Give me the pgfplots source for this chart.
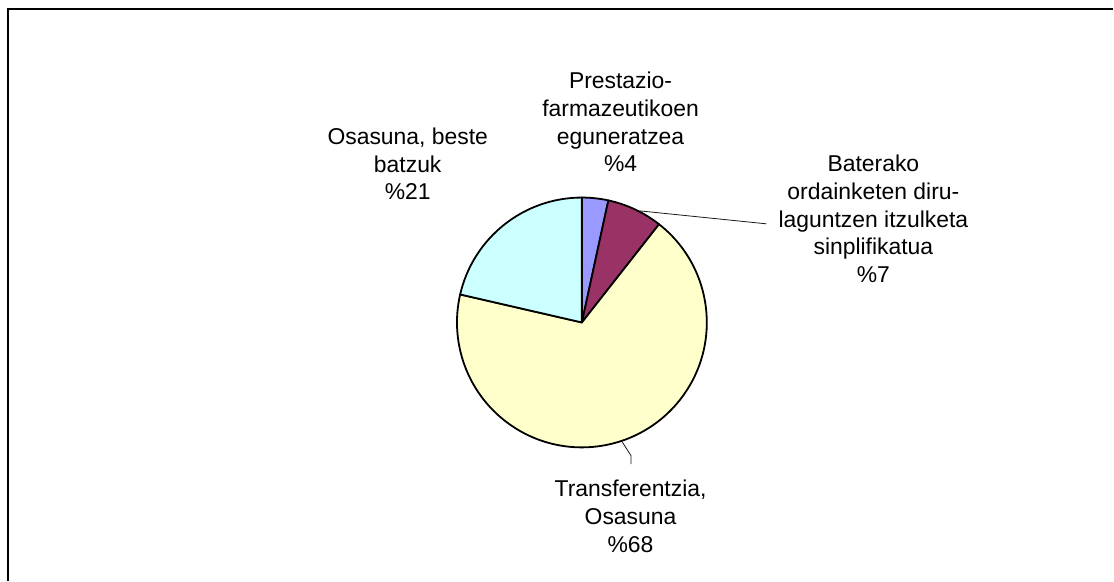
\documentclass[border=0pt]{standalone}
\usepackage{pgfplots}
\pgfplotsset{compat=1.18}
\usepackage{fontspec}
\setmainfont{Liberation Sans}
\definecolor{sliceA}{HTML}{9999FF}
\definecolor{sliceB}{HTML}{993366}
\definecolor{sliceC}{HTML}{FFFFCC}
\definecolor{sliceD}{HTML}{CCFFFF}
% shares (percent)
\def\vA{3.4}  % Prestazio-farmazeutikoen eguneratzea
\def\vB{7.2}  % Baterako ordainketen ...
\def\vC{68.0} % Transferentzia, Osasuna
\def\vD{21.4} % Osasuna, beste batzuk
\pgfmathsetmacro\aA{90-3.6*\vA}
\pgfmathsetmacro\aB{\aA-3.6*\vB}
\pgfmathsetmacro\aC{\aB-3.6*\vC}
\pgfmathsetmacro\aD{\aC-3.6*\vD}
\begin{document}
\begin{tikzpicture}
\begin{axis}[width=1114bp,height=581bp,scale only axis,
  xmin=0,xmax=1114,ymin=0,ymax=581,hide axis,clip=false]
\path (axis cs:0,0) rectangle (axis cs:1114,581);
\draw[line width=1.6bp] (axis cs:8,0) -- (axis cs:8,572) -- (axis cs:1114,572);
\filldraw[fill=sliceA,line width=1.8bp,line join=round] (axis cs:582.3,258.3) -- ++(90:125bp) arc[start angle=90,end angle=\aA,radius=125bp] -- cycle;
\filldraw[fill=sliceB,line width=1.8bp,line join=round] (axis cs:582.3,258.3) -- ++(\aA:125bp) arc[start angle=\aA,end angle=\aB,radius=125bp] -- cycle;
\filldraw[fill=sliceC,line width=1.8bp,line join=round] (axis cs:582.3,258.3) -- ++(\aB:125bp) arc[start angle=\aB,end angle=\aC,radius=125bp] -- cycle;
\filldraw[fill=sliceD,line width=1.8bp,line join=round] (axis cs:582.3,258.3) -- ++(\aC:125bp) arc[start angle=\aC,end angle=\aD,radius=125bp] -- cycle;
\draw[line width=0.8bp,black!90] (axis cs:640,370) -- (axis cs:767,357);
\draw[line width=0.8bp,black!90] (axis cs:622.7,138.7) -- (axis cs:631.5,125) -- (axis cs:631.5,116.5);
\tikzset{lbl/.style={align=center,inner sep=0pt,font=\fontsize{23}{28}\selectfont}}
\node[lbl] at (axis cs:621,459) {Prestazio-\\farmazeutikoen\\eguneratzea\\\%4};
\node[lbl] at (axis cs:408,417) {Osasuna, beste\\batzuk\\\%21};
\node[lbl] at (axis cs:874,362) {Baterako\\ordainketen diru-\\laguntzen itzulketa\\sinplifikatua\\\%7};
\node[lbl] at (axis cs:631,64) {Transferentzia,\\Osasuna\\\%68};
\end{axis}
\end{tikzpicture}
\end{document}
